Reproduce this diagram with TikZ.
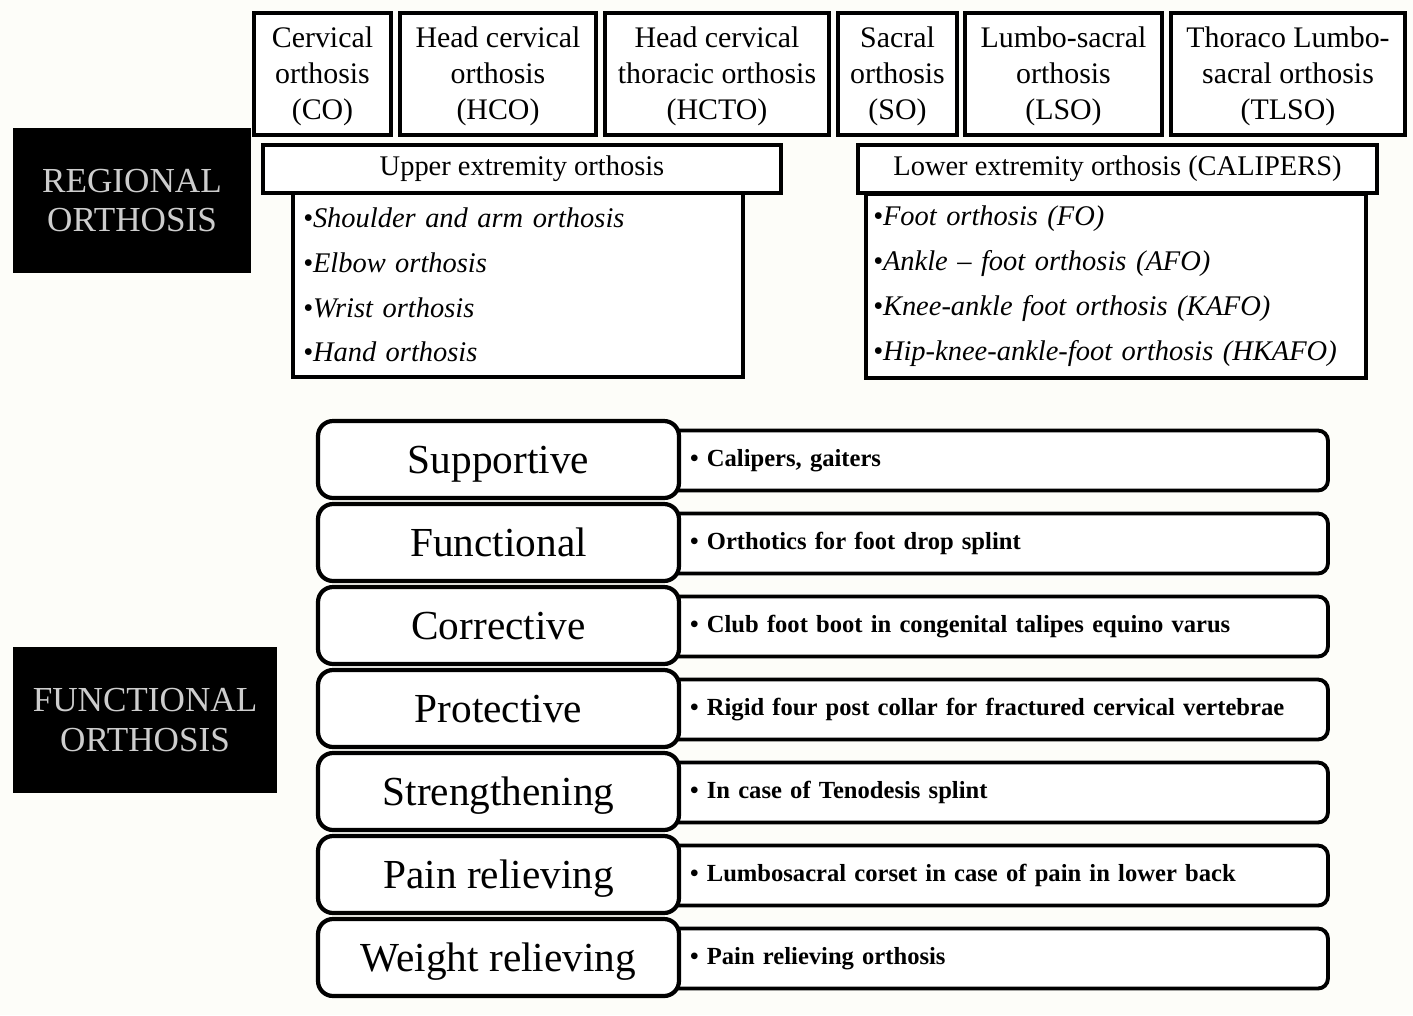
\documentclass[tikz,border=0pt]{standalone}
\usepackage{fontspec}
\setmainfont{Liberation Serif}
\definecolor{paper}{RGB}{253,253,249}
\definecolor{engrave}{RGB}{205,205,205}
\begin{document}
\begin{tikzpicture}[x=0.02cm,y=-0.02cm,
    region/.style={draw,line width=1.8pt,fill=white,align=center,inner sep=0pt,
        minimum height=2.44cm,font=\fontsize{17}{20.4}\selectfont},
    blackbox/.style={fill=black,text=engrave,align=center,inner sep=0pt,
        font=\fontsize{20}{22.7}\selectfont},
    limbhead/.style={draw,line width=1.8pt,fill=white,inner sep=0pt,
        minimum height=0.96cm,font=\fontsize{16.2}{18}\selectfont},
    limblist/.style={draw,line width=1.8pt,fill=white,align=left,inner ysep=0pt,
        minimum height=3.68cm,font=\itshape\fontsize{16.2}{25.5}\selectfont},
    kindbox/.style={draw,line width=2.4pt,fill=white,rounded corners=0.3cm,
        minimum width=7.22cm,minimum height=1.54cm,inner sep=0pt,
        text height=17pt,text depth=1.6pt,
        font=\fontsize{23.5}{26}\selectfont},
    usebox/.style={draw,line width=2.2pt,fill=white,rounded corners=0.2cm,
        minimum height=1.2cm,text width=12.2cm,inner xsep=0.56cm,inner ysep=0pt,
        align=left,font=\bfseries\fontsize{14}{16}\selectfont}]
\fill[paper] (0,0) rectangle (1413,1015);
\useasboundingbox (0,0) rectangle (1413,1015);

% regional orthosis
\node[blackbox,minimum width=4.76cm,minimum height=2.9cm] (regional) at (132,200.5) {REGIONAL\\ORTHOSIS};
\node[region,minimum width=2.74cm] (co) at (322.5,74) {\strut Cervical\\orthosis\\(CO)};
\node[region,minimum width=3.92cm] (hco) at (498,74) {\strut Head cervical\\orthosis\\(HCO)};
\node[region,minimum width=4.48cm] (hcto) at (717,74) {\strut Head cervical\\thoracic orthosis\\(HCTO)};
\node[region,minimum width=2.38cm] (so) at (897.5,74) {\strut Sacral\\orthosis\\(SO)};
\node[region,minimum width=3.94cm] (lso) at (1063.5,74) {\strut Lumbo-sacral\\orthosis\\(LSO)};
\node[region,minimum width=4.68cm] (tlso) at (1288,74) {\strut Thoraco Lumbo-\\sacral orthosis\\(TLSO)};

\node[limblist,text width=8.6cm,inner xsep=0.2cm] (upperlist) at (518,285)
    {\textbullet Shoulder and arm orthosis\\\textbullet Elbow orthosis\\\textbullet Wrist orthosis\\\textbullet Hand orthosis};
\node[limbhead,minimum width=10.36cm] (upperhead) at (522,169) {Upper extremity orthosis};
\node[limblist,text width=9.72cm,inner xsep=0.14cm] (lowerlist) at (1116,286)
    {\textbullet Foot orthosis (FO)\\\textbullet Ankle -- foot orthosis (AFO)\\\textbullet Knee-ankle foot orthosis (KAFO)\\\textbullet Hip-knee-ankle-foot orthosis (HKAFO)};
\node[limbhead,minimum width=10.38cm] (lowerhead) at (1117.5,169) {Lower extremity orthosis (CALIPERS)};

% functional orthosis
\node[blackbox,minimum width=5.28cm,minimum height=2.92cm] (functional) at (145,720) {FUNCTIONAL\\ORTHOSIS};
\foreach \lab/\txt [count=\i from 0] in {Supportive/{Calipers, gaiters},
    Functional/{Orthotics for foot drop splint},
    Corrective/{Club foot boot in congenital talipes equino varus},
    Protective/{Rigid four post collar for fractured cervical vertebrae},
    Strengthening/{In case of Tenodesis splint},
    Pain relieving/{Lumbosacral corset in case of pain in lower back},
    Weight relieving/{Pain relieving orthosis}}
{
    \node[usebox] (use\i) at (995,460.5+83*\i) {\textbullet\ \txt};
    \node[kindbox] (kind\i) at (498.5,459.5+83*\i) {\lab};
}
\end{tikzpicture}
\end{document}
